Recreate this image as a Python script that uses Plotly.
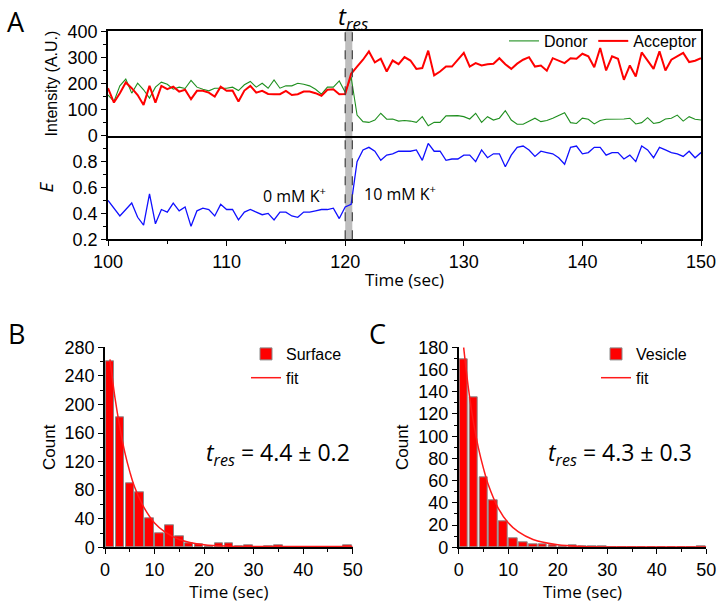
import numpy as np
import plotly.graph_objects as go

# ---------------- Panel A data (0.5 s frames, 100-150 s) ----------------
time_s = np.arange(100, 150.25, 0.5)

acceptor = [182, 127, 163, 204, 182, 156, 118, 191, 127, 191,
            178, 188, 169, 176, 140, 172, 172, 165, 150, 188,
            172, 173, 131, 173, 191, 165, 172, 160, 159, 159,
            172, 156, 159, 169, 169, 163, 153, 176, 178, 159,
            160,
            237, 265, 291, 323, 281, 295, 246, 288, 274, 301,
            288, 256, 259, 326, 231, 246, 265, 265, 291, 317,
            265, 278, 269, 274, 276, 297, 274, 256, 276, 291,
            301, 265, 269, 249, 297, 287, 278, 297, 295, 314,
            304, 262, 336, 250, 304, 295, 214, 269, 227, 319,
            287, 256, 323, 250, 291, 304, 317, 282, 287, 297]

donor = [156, 131, 191, 217, 163, 201, 176, 144, 186, 205,
         197, 178, 186, 181, 212, 186, 178, 172, 182, 182,
         182, 186, 173, 195, 208, 186, 201, 182, 214, 182,
         191, 191, 201, 197, 191, 178, 159, 186, 186, 210,
         166,
         225, 79, 54, 51, 60, 86, 63, 64, 56, 58,
         56, 51, 73, 38, 51, 51, 76, 76, 77, 73,
         64, 86, 51, 73, 60, 67, 96, 60, 44, 44,
         54, 67, 54, 58, 67, 76, 88, 50, 47, 67,
         63, 45, 58, 63, 63, 64, 64, 67, 45, 50,
         69, 47, 51, 64, 67, 79, 56, 73, 63, 60]

fret_e = [0.50, 0.44, 0.38, 0.43, 0.48, 0.37, 0.31, 0.55, 0.32, 0.43,
          0.41, 0.48, 0.42, 0.45, 0.30, 0.42, 0.44, 0.43, 0.38, 0.47,
          0.43, 0.43, 0.35, 0.41, 0.43, 0.41, 0.39, 0.40, 0.35, 0.41,
          0.41, 0.38, 0.37, 0.41, 0.41, 0.42, 0.43, 0.43, 0.44, 0.36,
          0.45,
          0.47, 0.80, 0.89, 0.91, 0.88, 0.81, 0.85, 0.86, 0.88, 0.88,
          0.88, 0.89, 0.81, 0.94, 0.88, 0.88, 0.81, 0.82, 0.82, 0.85,
          0.85, 0.80, 0.89, 0.83, 0.86, 0.86, 0.76, 0.85, 0.91, 0.92,
          0.89, 0.84, 0.88, 0.87, 0.86, 0.83, 0.78, 0.91, 0.92, 0.86,
          0.87, 0.91, 0.91, 0.85, 0.87, 0.87, 0.82, 0.85, 0.80, 0.92,
          0.89, 0.83, 0.91, 0.89, 0.87, 0.86, 0.84, 0.88, 0.83, 0.87]

band_start, band_end = 120.0, 120.6

# ---------------- Panel B / C histogram data ----------------
bin_centers = [1, 3, 5, 7, 9, 11, 13, 15, 17, 19, 21, 23, 25, 27, 29,
               31, 33, 35, 37, 39, 41, 43, 45, 47, 49]
surface_counts = [260, 182, 90, 77, 41, 19, 31, 15, 6, 4, 2, 5, 5, 2, 3,
                  0, 1, 3, 0, 0, 0, 0, 0, 0, 3]
vesicle_counts = [169, 135, 63, 42, 23, 8, 4.5, 2.4, 3, 1.5, 1, 2, 0.5, 0.5, 1,
                  0, 0, 0, 0, 0, 0, 0, 0, 0, 1]

fit_t = [1, 2, 3, 4, 5, 6, 8, 10, 12, 15, 20, 25, 30, 40, 50]
surface_fit = [263, 210, 168, 133, 106, 84, 54, 34, 22, 11, 3.5, 1.5, 1.2, 1.0, 1.0]
vesicle_fit = [180, 142, 112, 89, 71, 56, 35, 22, 14, 7, 2.2, 0.7, 0.3, 0.2, 0.2]

# ---------------- Figure ----------------
W, H = 724, 604
ARIAL = "Arial, Liberation Sans, sans-serif"
MYRIAD = "Open Sans, Noto Sans, sans-serif"
tickfont = dict(family=ARIAL, size=18, color="black")

def px_x(v):
    return v / W

def px_y(v):
    return 1 - v / H

fig = go.Figure()

fig.add_trace(go.Scatter(x=time_s, y=donor, mode="lines", name="Donor",
                         line=dict(color="#1f8f1f", width=1.1),
                         xaxis="x", yaxis="y", legend="legend"))
fig.add_trace(go.Scatter(x=time_s, y=acceptor, mode="lines", name="Acceptor",
                         line=dict(color="#ff0000", width=2),
                         xaxis="x", yaxis="y", legend="legend"))
fig.add_trace(go.Scatter(x=time_s, y=fret_e, mode="lines", name="E",
                         line=dict(color="#1010ff", width=1.3),
                         xaxis="x2", yaxis="y2", showlegend=False))

bar_line = dict(color="#8a8a8a", width=1)
fig.add_trace(go.Bar(x=bin_centers, y=surface_counts, width=1.72, name="Surface",
                     marker=dict(color="#ff0000", line=bar_line),
                     xaxis="x3", yaxis="y3", legend="legend2"))
fig.add_trace(go.Scatter(x=fit_t, y=surface_fit, mode="lines", name="fit",
                         line=dict(color="#ff1a1a", width=1.5, shape="spline"),
                         xaxis="x3", yaxis="y3", legend="legend2"))
fig.add_trace(go.Bar(x=bin_centers, y=vesicle_counts, width=1.72, name="Vesicle",
                     marker=dict(color="#ff0000", line=bar_line),
                     xaxis="x4", yaxis="y4", legend="legend3"))
fig.add_trace(go.Scatter(x=fit_t, y=vesicle_fit, mode="lines", name="fit",
                         line=dict(color="#ff1a1a", width=1.5, shape="spline"),
                         xaxis="x4", yaxis="y4", legend="legend3"))

ax_common = dict(showline=True, linecolor="black", linewidth=1.5, showgrid=False,
                 zeroline=False, tickfont=tickfont, automargin=False,
                 tickcolor="black", ticklen=5, tickwidth=1.2)

A_x = [px_x(108), px_x(701)]
A_top = [px_y(135.7), px_y(31.3)]
A_bot = [px_y(239.3), px_y(135.7)]
B_x = [px_x(105), px_x(352.7)]
C_x = [px_x(458.7), px_x(706.3)]
BC_y = [px_y(547.3), px_y(347.3)]

minor_style = dict(ticks="outside", ticklen=3, tickcolor="black", tickwidth=1.2)

fig.update_layout(
    width=W, height=H, margin=dict(l=0, r=0, t=0, b=0),
    paper_bgcolor="white", plot_bgcolor="white",
    bargap=0,
    xaxis=dict(domain=A_x, range=[100, 150], anchor="y", showticklabels=False,
               ticks="", mirror=True, **ax_common),
    yaxis=dict(domain=A_top, range=[0, 400], anchor="x", dtick=100, ticks="outside",
               mirror=True, minor=dict(dtick=50, **minor_style),
               title=dict(text="Intensity (A.U.)", font=dict(family=ARIAL, size=16, color="black"),
                          standoff=6),
               **ax_common),
    xaxis2=dict(domain=A_x, range=[100, 150], anchor="y2", dtick=10, ticks="outside",
                mirror=False, minor=dict(dtick=5, **minor_style),
                title=dict(text="Time (sec)", font=dict(family=MYRIAD, size=17, color="black"),
                           standoff=3),
                **ax_common),
    yaxis2=dict(domain=A_bot, range=[0.2, 1.0], anchor="x2",
                tickvals=[0.2, 0.4, 0.6, 0.8], ticktext=["0.2", "0.4", "0.6", "0.8"],
                ticks="outside", mirror=True,
                minor=dict(tickvals=[0.3, 0.5, 0.7, 0.9], **minor_style),
                title=dict(text="<i>E</i>", font=dict(family=MYRIAD, size=19, color="black"),
                           standoff=14),
                **ax_common),
    xaxis3=dict(domain=B_x, range=[0, 50], anchor="y3", dtick=10, ticks="outside",
                minor=dict(dtick=5, **minor_style),
                title=dict(text="Time (sec)", font=dict(family=MYRIAD, size=17, color="black"),
                           standoff=2),
                **ax_common),
    yaxis3=dict(domain=BC_y, range=[0, 280], anchor="x3", dtick=40, ticks="outside",
                minor=dict(dtick=20, **minor_style),
                title=dict(text="Count", font=dict(family=ARIAL, size=17, color="black"),
                           standoff=5),
                **ax_common),
    xaxis4=dict(domain=C_x, range=[0, 50], anchor="y4", dtick=10, ticks="outside",
                minor=dict(dtick=5, **minor_style),
                title=dict(text="Time (sec)", font=dict(family=MYRIAD, size=17, color="black"),
                           standoff=2),
                **ax_common),
    yaxis4=dict(domain=BC_y, range=[0, 180], anchor="x4", dtick=20, ticks="outside",
                minor=dict(dtick=10, **minor_style),
                title=dict(text="Count", font=dict(family=ARIAL, size=17, color="black"),
                           standoff=5),
                **ax_common),
    legend=dict(orientation="h", x=px_x(703), xanchor="right", y=px_y(24), yanchor="top",
                font=dict(family=ARIAL, size=16, color="black"), bgcolor="rgba(0,0,0,0)",
                itemwidth=30, tracegroupgap=0, traceorder="normal"),
    legend2=dict(x=px_x(246), xanchor="left", y=px_y(337), yanchor="top",
                 font=dict(family=ARIAL, size=16, color="black"), bgcolor="rgba(0,0,0,0)",
                 tracegroupgap=0, itemwidth=30),
    legend3=dict(x=px_x(596), xanchor="left", y=px_y(337), yanchor="top",
                 font=dict(family=ARIAL, size=16, color="black"), bgcolor="rgba(0,0,0,0)",
                 tracegroupgap=0, itemwidth=30),
    showlegend=True,
)

# shaded residence-time band across both A panels
fig.add_shape(type="rect", xref="x", yref="paper", x0=band_start, x1=band_end,
              y0=A_bot[0], y1=A_top[1], fillcolor="#bdbdbd", line=dict(width=0), layer="below")
for xv in (band_start, band_end):
    fig.add_shape(type="line", xref="x", yref="paper", x0=xv, x1=xv,
                  y0=A_bot[0], y1=A_top[1], line=dict(color="#404040", width=1.2, dash="dash"))

def ann(text, x, y, size, family=MYRIAD, xanchor="center"):
    fig.add_annotation(text=text, x=px_x(x), y=px_y(y), xref="paper", yref="paper",
                       showarrow=False, xanchor=xanchor, yanchor="middle",
                       font=dict(family=family, size=size, color="black"))

ann("A", 16, 22, 27)
ann("B", 16, 333, 27)
ann("C", 377, 333, 27)
ann("<i>t</i><sub><i>res</i></sub>", 353, 17, 24)
ann("0 mM K<sup>+</sup>", 294, 195, 16)
ann("10 mM K<sup>+</sup>", 400, 193, 16)
ann("<i>t</i><sub><i>res</i></sub> = 4.4 ± 0.2", 278, 453, 23)
ann("<i>t</i><sub><i>res</i></sub> = 4.3 ± 0.3", 620, 453, 23)

fig.write_html("out.html", config={"displayModeBar": False},
               post_script="document.body.style.margin='0';document.body.style.overflow='hidden';")
